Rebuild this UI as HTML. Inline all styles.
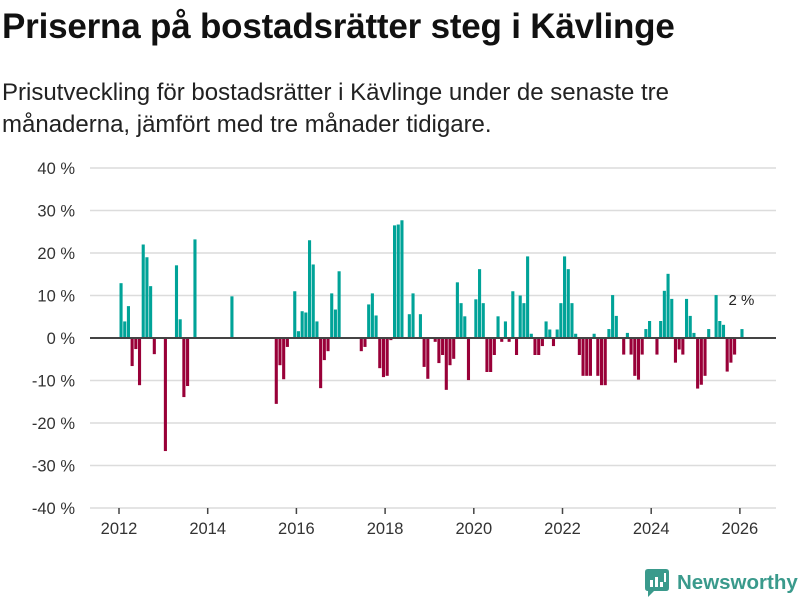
<!DOCTYPE html>
<html><head><meta charset="utf-8">
<style>
body{margin:0;width:800px;height:600px;background:#fff;font-family:"Liberation Sans",sans-serif;overflow:hidden;position:relative}
h1{position:absolute;left:2px;top:7px;margin:0;font-size:35px;font-weight:bold;color:#111;letter-spacing:-0.2px;white-space:nowrap}
p.sub{position:absolute;left:2px;top:77px;margin:0;font-size:24px;line-height:32px;color:#222;width:700px}
svg{position:absolute;left:0;top:0}
.logo{position:absolute;left:645px;top:569px;display:flex;align-items:center}
.logo span{font-size:20.5px;font-weight:bold;color:#3a9a8c;margin-left:8px}
</style></head><body>
<h1>Priserna på bostadsrätter steg i Kävlinge</h1>
<p class="sub">Prisutveckling för bostadsrätter i Kävlinge under de senaste tre månaderna, jämfört med tre månader tidigare.</p>
<svg id="chart" width="800" height="600"></svg>
<div class="logo">
<svg width="24" height="28" style="position:static"><path d="M0 3 Q0 0 3 0 H21 Q24 0 24 3 V19 Q24 22 21 22 H9 L3 28 V22 Q0 22 0 19Z" fill="#3a9a8c"/><rect x="5" y="11" width="3" height="7" fill="#fff"/><rect x="10" y="8" width="3" height="10" fill="#fff"/><rect x="15" y="13" width="3" height="5" fill="#fff"/><rect x="19" y="4" width="2" height="9" fill="#fff"/></svg>
<span>Newsworthy</span></div>
<script>
const startYear = 2012;
const yTicks = [40,30,20,10,0,-10,-20,-30,-40];
const xTickYears = [2012,2014,2016,2018,2020,2022,2024,2026];
const values = [12.9,3.9,7.5,-6.6,-2.6,-11.1,22,19,12.2,-3.8,null,null,-26.6,null,null,17.1,4.4,-13.9,-11.3,null,23.2,null,null,null,null,null,null,null,null,null,9.8,null,null,null,null,null,null,null,null,null,null,null,-15.5,-6.4,-9.7,-2.1,null,11,1.6,6.3,6,23,17.3,3.9,-11.8,-5.2,-3.1,10.5,6.7,15.7,null,null,null,null,null,-3.1,-2.1,7.9,10.5,5.3,-7.1,-9.2,-8.9,-0.5,26.5,26.7,27.7,null,5.6,10.5,null,5.6,-6.8,-9.6,null,-0.9,-5.9,-4,-12.2,-6.4,-4.9,13.1,8.2,5.1,-9.9,null,9.1,16.2,8.2,-8,-8,-4,5.1,-0.9,3.9,-0.9,11,-4,10,8.2,19.2,1,-4,-4,-1.9,3.9,2,-1.9,2,8.2,19.2,16.2,8.2,1,-4,-8.9,-8.9,-8.9,1,-8.9,-11.1,-11.1,2.1,10.1,5.2,null,-3.9,1.2,-3.9,-8.9,-9.8,-3.9,2.1,4,null,-3.9,4,11.1,15.1,9.2,-5.8,-2.7,-3.9,9.2,5.2,1.2,-11.9,-11,-8.9,2.1,null,10.1,4,3.1,-7.9,-5.8,-3.9,null,2.1];
const lastLabel = "2 %";

const NS="http://www.w3.org/2000/svg";
const svg=document.getElementById('chart');
const y=v=>338-v*4.25;
const xm=i=>119.5+i*3.696;
const xy=yr=>119+(yr-2012)*44.35;
function mk(t,a){const e=document.createElementNS(NS,t);for(const k in a)e.setAttribute(k,a[k]);svg.appendChild(e);return e;}
yTicks.forEach(t=>{
  if(t!==0){const g=mk('line',{x1:90,x2:776,y1:y(t),y2:y(t),stroke:'#dcdcdc','stroke-width':1.5});
  
  }
  const l=mk('text',{x:75,y:y(t)+6,'text-anchor':'end','font-size':16.5,fill:'#333'});
  
  
  l.textContent=t+' %';
});
values.forEach((v,i)=>{
  if(v===null)return;
  const r=mk('rect',{x:xm(i),width:3.1,y:Math.min(y(v),y(0)),height:Math.abs(y(v)-y(0)),fill:v>=0?'#00a398':'#990038'});
  
  
});
const z=mk('line',{x1:90,x2:776,y1:y(0),y2:y(0),stroke:'#444','stroke-width':2});


xTickYears.forEach(yr=>{
  const tk=mk('line',{x1:xy(yr),x2:xy(yr),y1:508,y2:514,stroke:'#444','stroke-width':1.5});
  
  
  const t=mk('text',{x:xy(yr),y:534,'text-anchor':'middle','font-size':16.5,fill:'#333'});
  
  
  t.textContent=yr;
});
const li=values.length-1;
const lab=mk('text',{x:xm(li)+1,y:y(values[li])-24,'text-anchor':'middle','font-size':15,fill:'#222'});


lab.textContent=lastLabel;
</script>
</body></html>
